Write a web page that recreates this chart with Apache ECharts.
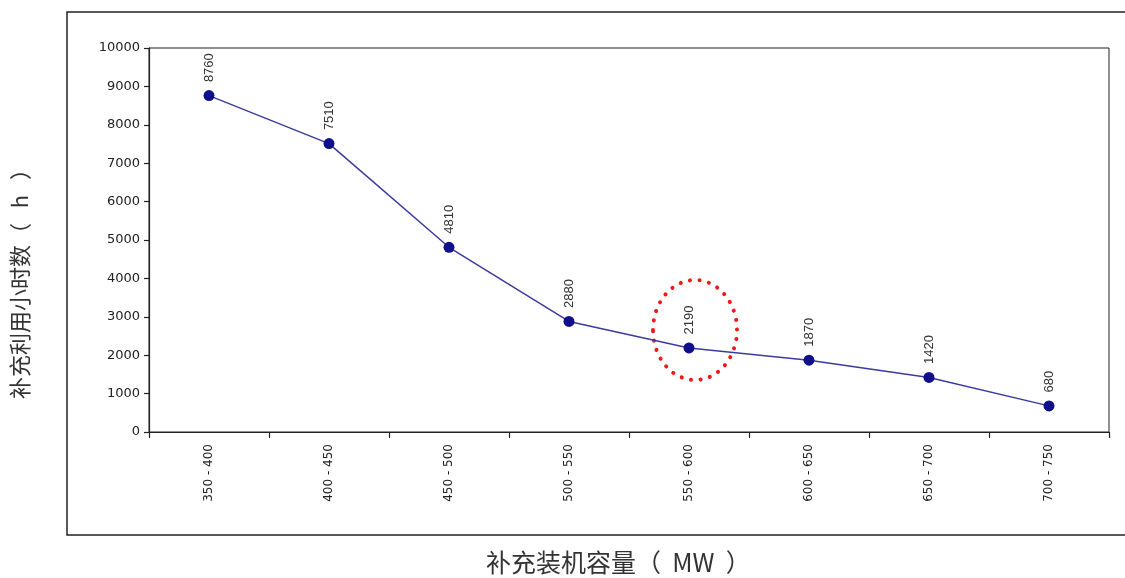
<!DOCTYPE html>
<html><head><meta charset="utf-8">
<script src="https://cdn.jsdelivr.net/npm/echarts@6/dist/echarts.min.js"></script>
<style>html,body{margin:0;padding:0;background:#fff}#c{width:1125px;height:578px}</style>
</head><body><div id="c"></div>
<script>
const categories = ['350-400','400-450','450-500','500-550','550-600','600-650','650-700','700-750'];
const hours = [8760, 7510, 4810, 2880, 2190, 1870, 1420, 680];
const yTitle = '补充利用小时数（   h   ）';
const xTitle = '补充装机容量（  MW  ）';

const chart = echarts.init(document.getElementById('c'), null, {renderer:'canvas'});
chart.setOption({
  animation:false,
  backgroundColor:'#fff',
  grid:{left:149,right:16,top:48,bottom:146,show:true,borderColor:'#222',borderWidth:1},
  xAxis:{
    type:'category', data:categories, boundaryGap:true,
    axisLine:{lineStyle:{color:'#222',width:1.2}},
    axisTick:{show:true,length:6,lineStyle:{color:'#222',width:1.2}},
    axisLabel:{rotate:90,margin:12,color:'#222',fontFamily:'DejaVu Sans',fontSize:12,
      formatter:v=>v.replace('-',' - ')},
    splitLine:{show:false}
  },
  yAxis:{
    type:'value', min:0, max:10000, interval:1000,
    axisLine:{show:true,lineStyle:{color:'#222',width:1.2}},
    axisTick:{show:true,length:5,lineStyle:{color:'#222',width:1.2}},
    axisLabel:{margin:9,color:'#222',fontFamily:'DejaVu Sans',fontSize:13,formatter:v=>String(v)},
    splitLine:{show:false}
  },
  series:[{
    type:'line', data:hours,
    symbol:'circle', symbolSize:11,
    lineStyle:{color:'#3b3b9e',width:1.5},
    itemStyle:{color:'#10108a'},
    label:{show:true,position:'top',rotate:90,align:'left',verticalAlign:'middle',distance:8,
      color:'#333',fontFamily:'Liberation Sans',fontSize:13}
  }],
  graphic:[
    {type:'rect',shape:{x:67,y:12,width:1100,height:523},style:{fill:null,stroke:'#222',lineWidth:1.5},silent:true},
    {type:'text',x:486,y:550,style:{text:xTitle,font:'25px "Noto Sans CJK SC"',fill:'#333'}},
    {type:'text',x:9,y:399,rotation:Math.PI/2,style:{text:yTitle,font:'22px "Noto Sans CJK SC"',fill:'#333'}},
    {type:'ellipse',shape:{cx:695,cy:330,rx:42,ry:50},style:{fill:null,stroke:'#f01818',lineWidth:4,lineDash:[0.1,9.5],lineCap:'round'},silent:true}
  ]
});
</script></body></html>
